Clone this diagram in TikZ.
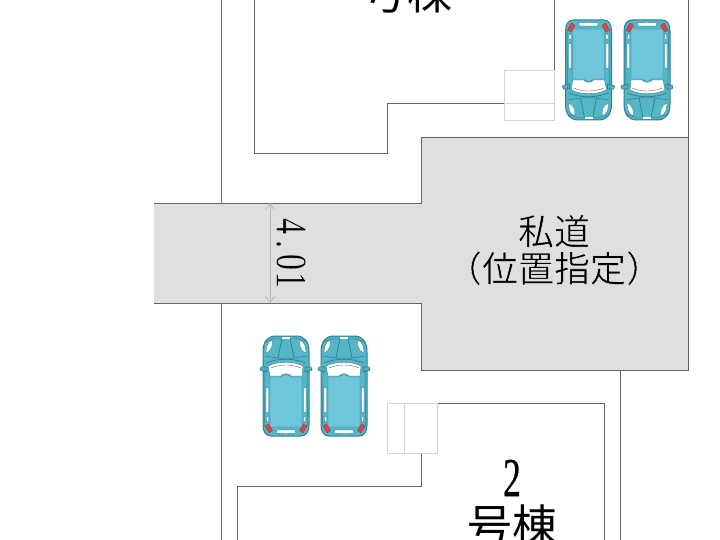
\documentclass[tikz,border=0pt]{standalone}
\usepackage{fontspec}
\setmainfont{Liberation Serif}
\newfontfamily\jpfont{Noto Sans CJK JP}
\newfontfamily\digitfont[FakeBold=.6]{Liberation Serif}
\usetikzlibrary{arrows.meta}
\definecolor{roadgrey}{HTML}{DFDFDF}
\definecolor{lineg}{HTML}{666666}
\definecolor{boxg}{HTML}{D4D4D4}
\definecolor{carbody}{HTML}{55B6C8}
\definecolor{carroof}{HTML}{6EC6DA}
\definecolor{carline}{HTML}{2F7E8E}
\definecolor{carred}{HTML}{D8474F}
\newcommand{\halotext}[2]{\special{pdf:code q 2 Tr #1 w 1 1 1 RG}#2\special{pdf:code Q}}
\newcommand{\dg}[1]{\makebox[24.6pt]{#1}}
\tikzset{
  x=1pt,y=-1pt,
  wall/.style={draw=lineg,line width=.9pt},
  lightbox/.style={draw=boxg,line width=.9pt},
  label/.style={text=black,inner sep=0pt,align=center},
  cl/.style={draw=carline,line width=.7pt},
  win/.style={fill=white,draw=carline,line width=.4pt},
  car/.pic={
    % body
    \path[fill=carbody,cl,line width=1pt] (-15,-50) .. controls (-20,-50) and (-23,-46) .. (-23,-39)
      -- (-23,34) .. controls (-23,45) and (-18,50) .. (-10,50) -- (10,50)
      .. controls (18,50) and (23,45) .. (23,34) -- (23,-39)
      .. controls (23,-46) and (20,-50) .. (15,-50) -- cycle;
    % mirrors
    \path[fill=carbody,cl] (-19,14) -- (-26,16) -- (-25,19) -- (-19,19) -- cycle;
    \path[fill=carbody,cl] (19,14) -- (26,16) -- (25,19) -- (19,19) -- cycle;
    % roof
    \path[fill=carroof,draw=carline,line width=.3pt] (-16,-41) -- (16,-41) -- (16,9) -- (5,9)
      .. controls (3,12) and (-3,12) .. (-5,9) -- (-16,9) -- cycle;
    % windshield
    \path[win] (-16,10) -- (-5,10) .. controls (-3,13) and (3,13) .. (5,10) -- (16,10)
      -- (18,20) .. controls (8,25) and (-8,25) .. (-17,20) -- cycle;
    \draw[draw=carred!70!black,line width=.3pt] (-15,18) .. controls (-6,22) and (6,22) .. (15,18);
    % rear window
    \path[win] (-10,-47) .. controls (-4,-48) and (4,-48) .. (10,-47) -- (9,-44) -- (-9,-44) -- cycle;
    % side windows
    \path[win] (-20,-26) -- (-17.5,-27) -- (-17.5,-2) -- (-20,-2) -- cycle;
    \path[win] (20,-26) -- (17.5,-27) -- (17.5,-2) -- (20,-2) -- cycle;
    \path[win] (-19.5,-35) -- (-17.5,-37) -- (-17.5,-31) -- (-19.5,-31) -- cycle;
    \path[win] (19.5,-35) -- (17.5,-37) -- (17.5,-31) -- (19.5,-31) -- cycle;
    % door lines
    \draw[cl,line width=.5pt] (-21.5,-40) -- (-21,20) (21.5,-40) -- (21,20);
    % tail lights
    \path[fill=carred,draw=carred!70!black,line width=.3pt] (-21,-40) -- (-17,-47) -- (-13.5,-44.5) -- (-17.5,-38) -- cycle;
    \path[fill=carred,draw=carred!70!black,line width=.3pt] (21,-40) -- (17,-47) -- (13.5,-44.5) -- (17.5,-38) -- cycle;
    % hood
    \draw[cl] (-20,23) .. controls (-8,28) and (8,28) .. (20,23);
    \draw[cl,line width=.5pt] (-21,30) -- (-8,28) -- (8,28) -- (21,30);
    \draw[cl] (-8,28) -- (-4,48) (8,28) -- (4,48);
    \draw[cl,line width=.5pt] (-21,44) -- (-10,48) -- (10,48) -- (21,44);
    % headlights
    \path[fill=white,draw=carline,line width=.3pt] (-20,33) .. controls (-14,35) and (-13,42) .. (-14,46) .. controls (-18,44) and (-20,40) .. (-20,33) -- cycle;
    \path[fill=white,draw=carline,line width=.3pt] (20,33) .. controls (14,35) and (13,42) .. (14,46) .. controls (18,44) and (20,40) .. (20,33) -- cycle;
    % front number gap
    \path[fill=white] (-4,47.5) rectangle (4,49.5);
  }
}
\begin{document}
\begin{tikzpicture}
\useasboundingbox (0,0) rectangle (720,540);
\clip (0,0) rectangle (720,540);
% outer lot lines
\draw[wall] (221,0) -- (221,203);
\draw[wall] (221,303) -- (221,540);
\draw[wall] (688,0) -- (688,137);
\draw[wall] (620,370) -- (620,540);
% private road
\fill[roadgrey] (154,203) -- (421,203) -- (421,137) -- (688,137) -- (688,370) -- (421,370) -- (421,303) -- (154,303) -- cycle;
\draw[wall] (154,203) -- (421,203) -- (421,137) -- (688,137) -- (688,370) -- (421,370) -- (421,303) -- (154,303);
% building 1
\draw[wall] (254,0) -- (254,153) -- (387,153) -- (387,103) -- (504,103);
\draw[wall] (554,0) -- (554,103);
\draw[lightbox] (504,70) rectangle (554,120);
\draw[lightbox] (504,103) -- (554,103);
% building 2
\draw[wall] (420,403) -- (604,403) -- (604,540);
\draw[wall] (421,453) -- (421,486) -- (237,486) -- (237,540);
\draw[lightbox] (387.5,403) rectangle (437,453);
\draw[lightbox] (404,403) -- (404,453);
% cars
\pic at (588.5,70) {car};
\pic at (647,70) {car};
\pic[rotate=180] at (286,386) {car};
\pic[rotate=180] at (344,386) {car};
% width dimension
\coordinate (dimtop) at (270,203);
\coordinate (dimbot) at (270,303);
\draw[draw=boxg!85!black,line width=.7pt,{Straight Barb[length=6pt,width=9pt]}-{Straight Barb[length=6pt,width=9pt]}] (dimtop) -- (dimbot);
% labels
\node[label,rotate=-90,font=\digitfont\fontsize{44}{44}\selectfont,xscale=.73] (width) at (291,253) {\halotext{.4}{\dg{4}\dg{.}\dg{0}\dg{1}}};
\node[label,font=\jpfont\fontsize{36}{37}\selectfont] (road) at (554,250) {\halotext{.4}{私道}\\[0pt]\halotext{.4}{（位置指定）}};
\node[label,font=\digitfont\fontsize{55}{55}\selectfont,xscale=.65] (num2) at (512,478) {2};
\node[label,font=\jpfont\fontsize{45}{45}\selectfont] (bldg2) at (512,525) {号棟};
\node[label,font=\jpfont\fontsize{45}{45}\selectfont] (bldg1) at (407,-8) {号棟};
\end{tikzpicture}
\end{document}
